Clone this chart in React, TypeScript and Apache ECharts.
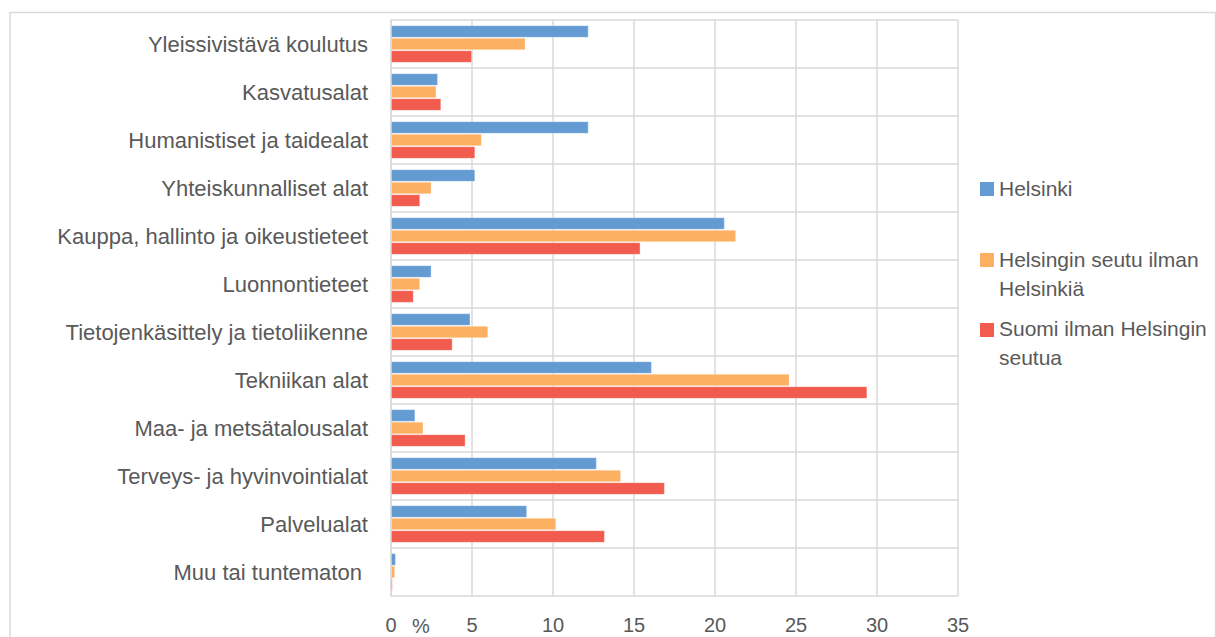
import React, { useEffect, useRef } from "react";
import * as echarts from "echarts";

const categories = [
  "Yleissivistävä koulutus",
  "Kasvatusalat",
  "Humanistiset ja taidealat",
  "Yhteiskunnalliset alat",
  "Kauppa, hallinto ja oikeustieteet",
  "Luonnontieteet",
  "Tietojenkäsittely ja tietoliikenne",
  "Tekniikan alat",
  "Maa- ja metsätalousalat",
  "Terveys- ja hyvinvointialat",
  "Palvelualat",
  "Muu tai tuntematon ",
];

const seriesNames = [
  "Helsinki",
  "Helsingin seutu ilman Helsinkiä",
  "Suomi ilman Helsingin seutua",
];
const legendLines = [
  ["Helsinki"],
  ["Helsingin seutu ilman", "Helsinkiä"],
  ["Suomi ilman Helsingin", "seutua"],
];

const helsinki = [12.2, 2.9, 12.2, 5.2, 20.6, 2.5, 4.9, 16.1, 1.5, 12.7, 8.4, 0.3];
const seutu = [8.3, 2.8, 5.6, 2.5, 21.3, 1.8, 6.0, 24.6, 2.0, 14.2, 10.2, 0.25];
const suomi = [5.0, 3.1, 5.2, 1.8, 15.4, 1.4, 3.8, 29.4, 4.6, 16.9, 13.2, 0.1];

const xTicks = [0, 5, 10, 15, 20, 25, 30, 35];
const unitLabel = "%";

const colors = ["#659bd3", "#fbb062", "#f25c4f"];
const FONT = '"Liberation Sans", Arial, sans-serif';
const TEXT_COLOR = "#595959";
const GRID_COLOR = "#d9d9d9";

export default function App() {
  const ref = useRef<HTMLDivElement>(null);

  useEffect(() => {
    if (!ref.current) return;
    const chart = echarts.init(ref.current, undefined, { renderer: "svg" });
    const values = [helsinki, seutu, suomi];

    const legendIconY = [182, 253, 323];
    const legendLineY = [[188], [259, 288.5], [328, 357.5]];
    const legendGraphics: any[] = [];
    seriesNames.forEach((_, i) => {
      legendGraphics.push({
        type: "rect",
        shape: { x: 980, y: legendIconY[i], width: 14, height: 14 },
        style: { fill: colors[i] },
      });
      legendLines[i].forEach((line, j) => {
        legendGraphics.push({
          type: "text",
          x: 999,
          y: legendLineY[i][j],
          style: {
            text: line,
            fill: TEXT_COLOR,
            font: `21px ${FONT}`,
            textVerticalAlign: "middle",
            textAlign: "left",
          },
        });
      });
    });

    chart.setOption({
      animation: false,
      grid: { left: 391, right: 258, top: 20, bottom: 41, containLabel: false },
      xAxis: {
        type: "value",
        min: xTicks[0],
        max: xTicks[xTicks.length - 1],
        interval: 5,
        axisLine: { show: false },
        axisTick: { show: false },
        splitLine: { show: true, lineStyle: { color: GRID_COLOR, width: 1.5 } },
        axisLabel: {
          color: TEXT_COLOR,
          fontSize: 20,
          fontFamily: FONT,
          margin: 19,
        },
      },
      yAxis: {
        type: "category",
        inverse: true,
        data: categories,
        axisLine: { show: true, lineStyle: { color: GRID_COLOR, width: 1.5 } },
        axisTick: { show: false },
        splitLine: { show: true, lineStyle: { color: GRID_COLOR, width: 1.5 } },
        axisLabel: {
          color: TEXT_COLOR,
          fontSize: 22,
          fontFamily: FONT,
          margin: 23,
        },
      },
      series: seriesNames.map((name, i) => ({
        name,
        type: "bar",
        data: values[i],
        barWidth: 12.5,
        barGap: "0%",
        itemStyle: {
          color: colors[i],
          borderColor: "rgba(255,255,255,0.45)",
          borderWidth: 0.8,
        },
      })),
      graphic: [
        {
          type: "rect",
          shape: { x: 10, y: 12.5, width: 1205.5, height: 640 },
          style: { fill: "none", stroke: GRID_COLOR, lineWidth: 1.5 },
          silent: true,
        },
        {
          type: "text",
          x: 421,
          y: 626,
          style: {
            text: unitLabel,
            fill: TEXT_COLOR,
            font: `20px ${FONT}`,
            textAlign: "center",
            textVerticalAlign: "middle",
          },
        },
        ...legendGraphics,
      ],
    });

    return () => chart.dispose();
  }, []);

  return (
    <div
      ref={ref}
      style={{ position: "absolute", left: 0, top: 0, width: 1216, height: 637 }}
    />
  );
}
